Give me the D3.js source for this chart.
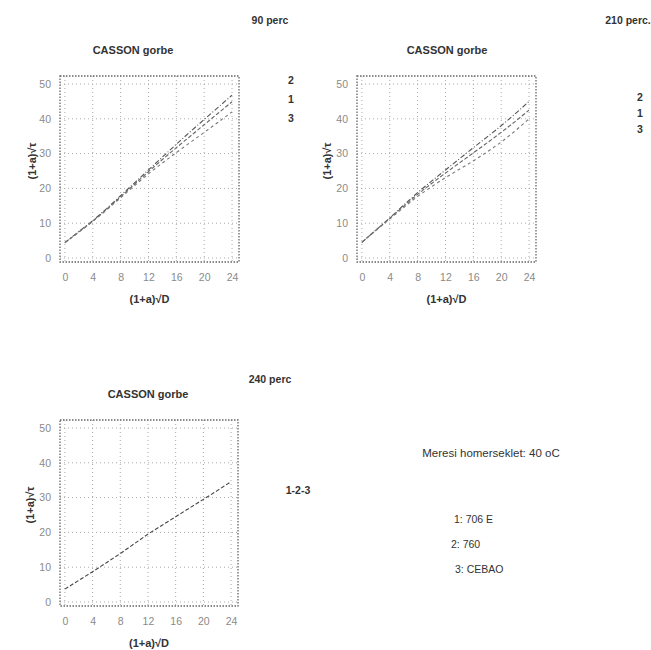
<!DOCTYPE html>
<html>
<head>
<meta charset="utf-8">
<script src="https://cdn.jsdelivr.net/npm/d3@7"></script>
<style>
  body { margin: 0; background: #fff; }
  svg { font-family: "Liberation Sans", Arial, sans-serif; }
</style>
</head>
<body>
<svg id="chart" width="651" height="650"></svg>
<script>
// ---- data ----
const xValues = [0, 2, 4, 6, 8, 10, 12, 14, 16, 18, 20, 22, 24];
const xTicks = [0, 4, 8, 12, 16, 20, 24];
const yTicks = [0, 10, 20, 30, 40, 50];

// 90 perc
const p90_s2 = [4.4, 7.6, 10.7, 14.2, 17.9, 21.6, 25.3, 29.0, 32.7, 36.3, 39.8, 43.3, 46.8];
const p90_s1 = [4.4, 7.5, 10.6, 14.0, 17.6, 21.2, 24.8, 28.3, 31.7, 35.0, 38.3, 41.6, 44.9];
const p90_s3 = [4.4, 7.4, 10.5, 13.8, 17.3, 20.8, 24.2, 27.3, 30.3, 33.2, 36.1, 39.0, 42.0];
// 210 perc
const p210_s2 = [4.5, 8.0, 11.5, 15.2, 18.8, 22.1, 25.3, 28.5, 31.7, 34.8, 38.0, 41.4, 45.0];
const p210_s1 = [4.5, 8.0, 11.4, 14.9, 18.3, 21.4, 24.4, 27.3, 30.2, 33.1, 36.1, 39.2, 42.5];
const p210_s3 = [4.5, 7.9, 11.2, 14.5, 17.7, 20.5, 23.1, 25.5, 27.9, 30.5, 33.3, 36.5, 40.0];
// 240 perc (1-2-3 coincide)
const p240_s123 = [3.7, 6.2, 8.7, 11.3, 13.9, 16.7, 19.5, 22.0, 24.5, 27.0, 29.5, 32.0, 34.6];

const chartTitle = "CASSON gorbe";
const xTitle = "(1+a)\u221AD";
const yTitle = "(1+a)\u221A\u03C4";
const infoLines = ["Meresi homerseklet: 40 oC", "1: 706 E", "2: 760", "3: CEBAO"];

// ---- drawing ----
const svg = d3.select("#chart");
const xDomain = [-0.7, 25];
const yDomain = [-1.15, 52.3];

function panel(opt) {
  const g = svg.append("g");
  const x = d3.scaleLinear().domain(xDomain).range([opt.left, opt.left + opt.w]);
  const y = d3.scaleLinear().domain(yDomain).range([opt.top + opt.h, opt.top]);

  // grid
  g.selectAll(".vg").data(xTicks).join("line")
    .attr("x1", d => x(d)).attr("x2", d => x(d))
    .attr("y1", opt.top).attr("y2", opt.top + opt.h)
    .attr("stroke", "#aaa").attr("stroke-width", 1).attr("stroke-dasharray", "1,3");
  g.selectAll(".hg").data(yTicks).join("line")
    .attr("y1", d => y(d)).attr("y2", d => y(d))
    .attr("x1", opt.left).attr("x2", opt.left + opt.w)
    .attr("stroke", "#aaa").attr("stroke-width", 1).attr("stroke-dasharray", "1,3");

  // frame (dotted)
  g.append("rect").attr("x", opt.left).attr("y", opt.top)
    .attr("width", opt.w).attr("height", opt.h)
    .attr("fill", "none").attr("stroke", "#666").attr("stroke-width", 1.3)
    .attr("stroke-dasharray", "1.5,1.5");

  // axes (ticks + labels)
  const xAxis = d3.axisBottom(x).tickValues(xTicks).tickSize(0).tickPadding(12).tickFormat(d3.format("d"));
  const yAxis = d3.axisLeft(y).tickValues(yTicks).tickSize(0).tickPadding(9).tickFormat(d3.format("d"));
  const xa = g.append("g").attr("transform", `translate(0,${opt.top + opt.h})`).call(xAxis);
  const ya = g.append("g").attr("transform", `translate(${opt.left},0)`).call(yAxis);
  [xa, ya].forEach(a => {
    a.select(".domain").remove();
    a.selectAll("text").attr("fill", "#8a8a8a").attr("font-size", 10.5)
      .attr("font-family", "Liberation Sans, Arial, sans-serif");
  });

  // lines
  const line = d3.line().x((d, i) => x(xValues[i])).y(d => y(d));
  opt.series.forEach((s, k) => {
    g.append("path").datum(s.values)
      .attr("d", line).attr("fill", "none")
      .attr("stroke", s.color).attr("stroke-width", 1.1)
      .attr("stroke-dasharray", s.dash);
  });

  // titles
  g.append("text").attr("x", opt.titleX).attr("y", opt.top - 22)
    .attr("text-anchor", "middle").attr("font-size", 11).attr("font-weight", "bold")
    .attr("fill", "#333").text(chartTitle);
  g.append("text").attr("x", opt.left + opt.w / 2).attr("y", opt.top + opt.h + 41)
    .attr("text-anchor", "middle").attr("font-size", 11).attr("font-weight", "bold")
    .attr("fill", "#333").text(xTitle);
  g.append("text")
    .attr("transform", `translate(${opt.yTitleX},${opt.top + opt.h / 2 - 8}) rotate(-90)`)
    .attr("text-anchor", "middle").attr("font-size", 11).attr("font-weight", "bold")
    .attr("fill", "#333").text(yTitle);

  // period label
  g.append("text").attr("x", opt.periodX).attr("y", opt.periodY)
    .attr("text-anchor", "middle").attr("font-size", 10.5).attr("font-weight", "bold")
    .attr("fill", "#333").text(opt.period);

  // legend labels
  opt.legend.forEach((t, i) => {
    g.append("text").attr("x", opt.legendX).attr("y", opt.legendY + i * opt.legendStep)
      .attr("text-anchor", "middle").attr("font-size", 10.5).attr("font-weight", "bold")
      .attr("fill", "#333").text(t);
  });
}

panel({
  left: 60, top: 76, w: 179, h: 186, titleX: 133, yTitleX: 36,
  period: "90 perc", periodX: 270, periodY: 24,
  legend: ["2", "1", "3"], legendX: 291, legendY: 84, legendStep: 19,
  series: [
    { values: p90_s2, color: "#555", dash: "5,2,1,2" },
    { values: p90_s1, color: "#666", dash: "4,2" },
    { values: p90_s3, color: "#777", dash: "3,3" }
  ]
});

panel({
  left: 357, top: 76, w: 179, h: 186, titleX: 447, yTitleX: 331,
  period: "210 perc.", periodX: 628, periodY: 24,
  legend: ["2", "1", "3"], legendX: 640, legendY: 101, legendStep: 16,
  series: [
    { values: p210_s2, color: "#555", dash: "5,2,1,2" },
    { values: p210_s1, color: "#666", dash: "4,2" },
    { values: p210_s3, color: "#777", dash: "3,3" }
  ]
});

panel({
  left: 60, top: 420, w: 178, h: 186, titleX: 148, yTitleX: 34,
  period: "240 perc", periodX: 270, periodY: 383,
  legend: ["1-2-3"], legendX: 298, legendY: 494, legendStep: 16,
  series: [
    { values: p240_s123, color: "#444", dash: "4,2" }
  ]
});

// info text block
svg.append("text").attr("x", 491).attr("y", 457).attr("text-anchor", "middle")
  .attr("font-size", 11.5).attr("fill", "#333").text(infoLines[0]);
const infoPos = [[454, 523], [451, 548], [455, 573]];
infoLines.slice(1).forEach((t, i) => {
  svg.append("text").attr("x", infoPos[i][0]).attr("y", infoPos[i][1])
    .attr("font-size", 10.5).attr("fill", "#333").text(t);
});
</script>
</body>
</html>
